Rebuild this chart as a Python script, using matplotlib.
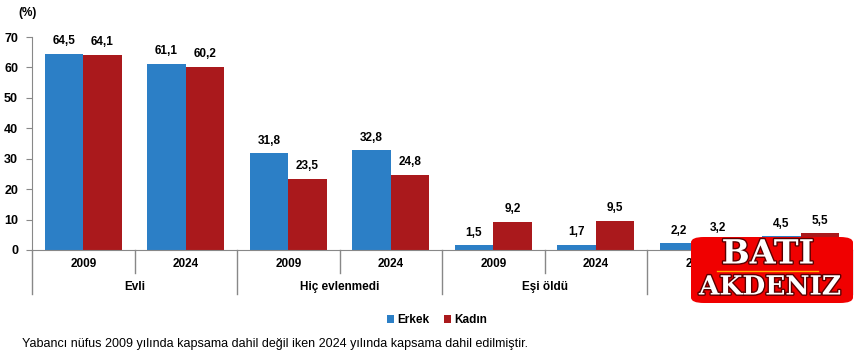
import matplotlib.pyplot as plt
import matplotlib.patheffects as pe
from matplotlib.patches import FancyBboxPatch
from matplotlib.transforms import blended_transform_factory
import numpy as np

plt.rcParams['font.family'] = ['Liberation Sans', 'DejaVu Sans']

# ============================================================
# Datos
# ============================================================
categories = ["Evli", "Hiç evlenmedi", "Eşi öldü", "Boşandı"]
years = ["2009", "2024"]
erkek = [64.5, 61.1, 31.8, 32.8, 1.5, 1.7, 2.2, 4.5]
kadin = [64.1, 60.2, 23.5, 24.8, 9.2, 9.5, 3.2, 5.5]
yticks = [0, 10, 20, 30, 40, 50, 60, 70]
note = "Yabancı nüfus 2009 yılında kapsama dahil değil iken 2024 yılında kapsama dahil edilmiştir."

blue = "#2C7FC6"
red = "#AA191C"

fig = plt.figure(figsize=(8.63, 3.63), dpi=100)
ax = fig.add_axes([0.0371, 0.3113, 0.9502, 0.5867])

n = len(erkek)
x = np.arange(n) + 0.5
w = 0.375
ax.bar(x - w / 2, erkek, w, color=blue, label="Erkek")
ax.bar(x + w / 2, kadin, w, color=red, label="Kadın")

for xi, v in zip(x - w / 2, erkek):
    ax.text(xi, v + 2.2, f"{v:.1f}".replace(".", ","), ha="center", va="bottom",
            fontsize=8.5, fontweight="bold")
for xi, v in zip(x + w / 2, kadin):
    ax.text(xi, v + 2.2, f"{v:.1f}".replace(".", ","), ha="center", va="bottom",
            fontsize=8.5, fontweight="bold")

ax.set_xlim(0, n)
ax.set_ylim(0, 70)
ax.set_yticks(yticks)
ax.set_yticklabels([str(t) for t in yticks], fontsize=9, fontweight="bold")
ax.set_xticks([])
for s in ["top", "right"]:
    ax.spines[s].set_visible(False)
ax.spines["left"].set_color("#888888")
ax.spines["bottom"].set_color("#888888")
ax.tick_params(axis="y", length=4, color="#888888", pad=6)

# etiquetas de varios niveles
tr = blended_transform_factory(ax.transData, ax.transAxes)
for i in range(n):
    ax.text(i + 0.5, -0.066, years[i % 2], transform=tr, ha="center", va="center",
            fontsize=8.5, fontweight="bold")
for i in range(n + 1):
    low = -0.108 if i % 2 else -0.207
    ax.plot([i, i], [0, low], transform=tr, color="#888888", lw=1, clip_on=False)
for j, cat in enumerate(categories):
    ax.text(2 * j + 1, -0.174, cat, transform=tr, ha="center", va="center",
            fontsize=8.5, fontweight="bold")

fig.text(28 / 863, 1 - 13 / 363, "(%)", ha="center", va="center", fontsize=8.5, fontweight="bold")

ax.legend(loc="center", bbox_to_anchor=(0.494, -0.33), ncol=2, frameon=False,
          handlelength=0.6, handleheight=0.6, columnspacing=1.2,
          handletextpad=0.3, prop={"weight": "bold", "size": 8.5})
fig.text(22 / 863, 1 - 344 / 363, note, ha="left", va="center", fontsize=9)

# logo superpuesto
logo = FancyBboxPatch((691 / 863, 1 - 303 / 363), 162 / 863, 66 / 363,
                      boxstyle="round,pad=0,rounding_size=0.015", transform=fig.transFigure,
                      facecolor="#F00000", edgecolor="none", zorder=10)
fig.patches.append(logo)
effects = [pe.withStroke(linewidth=2, foreground="#5a0000")]
fig.text(768 / 863, 1 - 254 / 363, "BATI", ha="center", va="center", color="white",
         fontsize=24, fontweight="bold", family="DejaVu Serif", zorder=11,
         path_effects=effects)
fig.text(770 / 863, 1 - 287 / 363, "AKDENIZ", ha="center", va="center", color="white",
         fontsize=19, fontweight="bold", family="DejaVu Serif", zorder=11,
         path_effects=effects)
fig.add_artist(plt.Line2D([717 / 863, 818 / 863], [1 - 271 / 363, 1 - 271 / 363],
                          transform=fig.transFigure, color="#FFB000", lw=1, zorder=11))

fig.savefig("out.png", dpi=100)
